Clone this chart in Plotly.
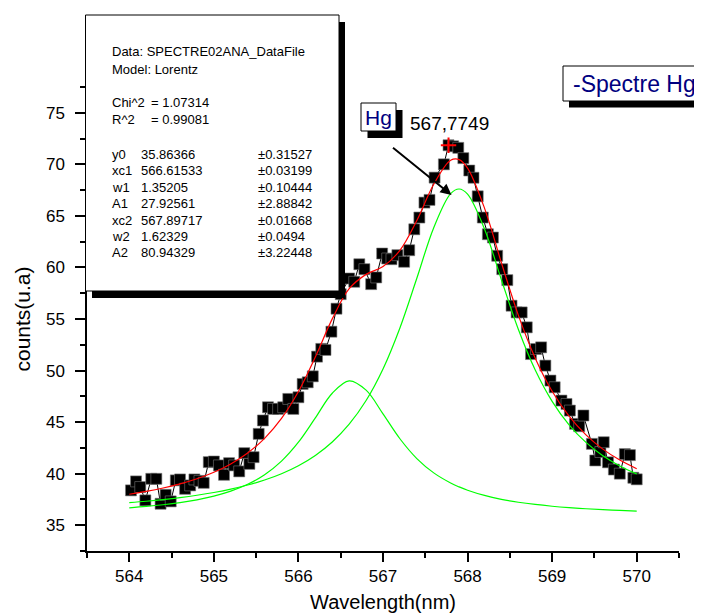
import plotly.graph_objects as go

# ---------------- data ----------------
wavelength = [564.02, 564.08, 564.13, 564.19, 564.26, 564.32, 564.37, 564.43, 564.49, 564.55,
              564.60, 564.66, 564.72, 564.77, 564.83, 564.88, 564.94, 565.00, 565.06, 565.12,
              565.18, 565.24, 565.30, 565.36, 565.42, 565.47, 565.53, 565.58, 565.64, 565.70,
              565.76, 565.82, 565.88, 565.94, 566.00, 566.05, 566.11, 566.17, 566.22, 566.27,
              566.32, 566.39, 566.45, 566.50, 566.60, 566.66, 566.72, 566.78, 566.86, 566.92,
              566.99, 567.05, 567.10, 567.17, 567.25, 567.31, 567.37, 567.43, 567.49, 567.55,
              567.61, 567.72, 567.7749, 567.83, 567.89, 567.95, 568.02, 568.07, 568.12, 568.18,
              568.24, 568.30, 568.35, 568.41, 568.47, 568.52, 568.58, 568.64, 568.70, 568.75,
              568.81, 568.87, 568.92, 568.98, 569.03, 569.11, 569.17, 569.21, 569.27, 569.32,
              569.37, 569.47, 569.51, 569.57, 569.61, 569.66, 569.73, 569.80, 569.86, 569.92,
              569.96, 570.00]
counts = [38.38, 39.25, 38.70, 37.41, 39.50, 39.50, 37.08, 37.95, 37.31, 39.35,
          39.44, 38.53, 38.86, 39.44, 39.30, 39.11, 41.12, 41.18, 40.80, 39.89,
          41.02, 40.80, 40.22, 41.99, 40.95, 41.60, 43.86, 45.16, 46.44, 46.28,
          46.28, 46.44, 47.25, 46.28, 47.41, 48.70, 48.86, 49.44, 51.35, 52.10,
          52.00, 53.77, 56.00, 57.41, 58.93, 58.61, 60.31, 59.83, 58.38, 59.03,
          61.35, 60.87, 60.80, 61.19, 60.55, 61.67, 63.70, 64.84, 66.29, 66.55,
          68.71, 70.00, 71.85, 71.75, 71.60, 70.60, 69.40, 68.70, 66.90, 64.84,
          63.22, 62.90, 61.13, 59.83, 58.77, 56.29, 55.64, 55.64, 54.19, 51.60,
          52.09, 52.25, 50.48, 49.03, 48.38, 47.09, 46.76, 46.12, 44.83, 44.60,
          45.64, 42.89, 41.28, 42.10, 43.05, 41.10, 40.40, 40.00, 41.90, 41.80,
          39.60, 39.45]

fit_x = [564.0, 564.2, 564.4, 564.6, 564.8, 565.0, 565.2, 565.4, 565.6, 565.8,
         566.0, 566.2, 566.4, 566.6, 566.8, 567.0, 567.2, 567.4, 567.6, 567.8,
         567.9, 568.0, 568.2, 568.4, 568.6, 568.8, 569.0, 569.2, 569.4, 569.6,
         569.8, 570.0]
fit_total = [38.007, 38.279, 38.607, 39.008, 39.505, 40.134, 40.942, 42.004, 43.426, 45.356,
             47.967, 51.319, 55.012, 57.937, 59.328, 60.084, 61.653, 64.549, 68.068, 70.390,
             70.460, 69.637, 65.755, 60.454, 55.372, 51.202, 47.995, 45.582, 43.764, 42.382,
             41.317, 40.484]
peak1 = [36.687, 36.819, 36.984, 37.194, 37.465, 37.824, 38.306, 38.971, 39.902, 41.221,
         43.055, 45.410, 47.802, 49.006, 48.100, 45.797, 43.386, 41.466, 40.076, 39.094,
         38.715, 38.395, 37.888, 37.514, 37.231, 37.013, 36.842, 36.706, 36.596, 36.505,
         36.431, 36.368]
peak2 = [37.184, 37.324, 37.486, 37.677, 37.904, 38.174, 38.500, 38.897, 39.387, 39.999,
         40.775, 41.772, 43.074, 44.795, 47.091, 50.151, 54.131, 58.947, 63.856, 67.160,
         67.609, 67.106, 63.730, 58.804, 54.005, 50.053, 47.017, 44.740, 43.032, 41.741,
         40.751, 39.980]

cursor_x = [567.7749]
cursor_y = [71.85]
cursor_label = "567,7749"

x_ticks = [564, 565, 566, 567, 568, 569, 570]
y_ticks = [35, 40, 45, 50, 55, 60, 65, 70, 75]

info_header = ["Data: SPECTRE02ANA_DataFile", "Model: Lorentz"]
stat_names = ["Chi^2", "R^2"]
stat_values = ["= 1.07314", "= 0.99081"]
param_names = ["y0", "xc1", "w1", "A1", "xc2", "w2", "A2"]
param_values = ["35.86366", "566.61533", "1.35205", "27.92561", "567.89717", "1.62329", "80.94329"]
param_errors = ["±0.31527", "±0.03199", "±0.10444", "±2.88842", "±0.01668", "±0.0494", "±3.22448"]

# ---------------- layout geometry ----------------
W, H = 702, 613
ML, MR, MT, MB = 79, 31, 79, 70
PW, PH = W - ML - MR, H - MT - MB


def fx(px):
    return (px - ML) / PW


def fy(py):
    return (H - MB - py) / PH


FONT = "Arial, Liberation Sans, sans-serif"

fig = go.Figure()

fig.add_trace(go.Scatter(
    x=wavelength, y=counts, mode="lines+markers",
    line=dict(color="black", width=1),
    marker=dict(symbol="square", size=11, color="black",
                line=dict(color="#777777", width=0.6)),
))
fig.add_trace(go.Scatter(x=fit_x, y=peak1, mode="lines",
                         line=dict(color="#00ff00", width=1.2, shape="spline")))
fig.add_trace(go.Scatter(x=fit_x, y=peak2, mode="lines",
                         line=dict(color="#00ff00", width=1.2, shape="spline")))
fig.add_trace(go.Scatter(x=fit_x, y=fit_total, mode="lines",
                         line=dict(color="#ff0000", width=1.2, shape="spline")))
fig.add_trace(go.Scatter(x=cursor_x, y=cursor_y, mode="markers",
                         marker=dict(symbol="cross-thin", size=11,
                                     line=dict(color="#ff0000", width=2))))

shapes = []
annotations = []


def rect(x0, y0, x1, y1, fill, line_w=0):
    shapes.append(dict(type="rect", xref="paper", yref="paper", layer="above",
                       x0=fx(x0), x1=fx(x1), y0=fy(y1), y1=fy(y0),
                       fillcolor=fill,
                       line=dict(color="black", width=line_w)))


def text(px, py, s, size=13, color="black", anchor="left"):
    annotations.append(dict(xref="paper", yref="paper", x=fx(px), y=fy(py), text=s,
                            showarrow=False, xanchor=anchor, yanchor="middle",
                            font=dict(family=FONT, size=size, color=color)))


# parameter box with shadow
rect(84, 14, 337, 290, "black")
rect(77.5, 7, 331, 283, "white", 1)
text(102, 44, info_header[0])
text(102, 61, info_header[1])
for i, (n, v) in enumerate(zip(stat_names, stat_values)):
    yy = 95 + i * 16.3
    text(102, yy, n)
    text(140.5, yy, v)
for i, (n, v, e) in enumerate(zip(param_names, param_values, param_errors)):
    yy = 146 + i * 16.5
    text(102, yy, n)
    text(130.5, yy, v)
    text(247.5, yy, e)

# legend box
rect(561, 93, 703, 99.5, "black")
rect(555, 58, 697, 93, "white", 1)
text(626, 75.5, "-Spectre Hg", size=23, color="#000080", anchor="center")

# Hg label box
rect(359.5, 102, 394.5, 130, "black")
rect(353, 95, 388, 123, "white", 1)
text(370.5, 109, "Hg", size=21, color="#000080", anchor="center")
text(400, 115, cursor_label, size=19)

# arrow from label to peak
annotations.append(dict(xref="paper", yref="paper", axref="pixel", ayref="pixel",
                        x=fx(443.5), y=fy(187), ax=383.5 - 443.5, ay=138.5 - 187,
                        text="", showarrow=True, arrowhead=2, arrowsize=1.1,
                        arrowwidth=2, arrowcolor="black"))

axis_common = dict(showline=True, linecolor="black", linewidth=1.5, mirror=False,
                   showgrid=False, zeroline=False, ticks="outside", tickcolor="black",
                   tickwidth=1.5, tickfont=dict(family=FONT, size=17, color="black"))

fig.update_layout(
    width=W, height=H,
    margin=dict(l=ML, r=MR, t=MT, b=MB, autoexpand=False),
    paper_bgcolor="white", plot_bgcolor="white", showlegend=False,
    font=dict(family=FONT, color="black"),
    xaxis=dict(range=[563.5, 570.5], tickvals=x_ticks, ticklen=9,
               minor=dict(dtick=0.5, tick0=563.5, ticks="outside", ticklen=5,
                          tickwidth=1.5, tickcolor="black", showgrid=False),
               title=dict(text="Wavelength(nm)", standoff=10,
                          font=dict(family=FONT, size=20, color="black")),
               **axis_common),
    yaxis=dict(range=[32.5, 77.5], tickvals=y_ticks, ticklen=10, ticklabelstandoff=7,
               minor=dict(dtick=2.5, tick0=32.5, ticks="outside", ticklen=5,
                          tickwidth=1.5, tickcolor="black", showgrid=False),
               title=dict(text="counts(u.a)", standoff=10,
                          font=dict(family=FONT, size=21, color="black")),
               **axis_common),
    shapes=shapes,
    annotations=annotations,
)

fig.write_html("out.html")
